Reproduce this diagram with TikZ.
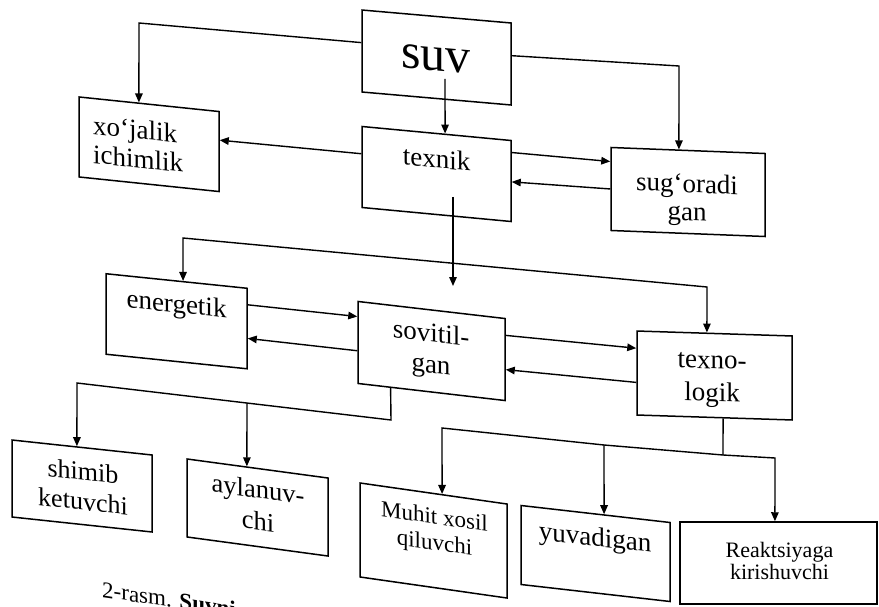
\documentclass[tikz,border=0pt]{standalone}
\usepackage{fontspec}
\setmainfont{Liberation Serif}
\usetikzlibrary{arrows.meta,calc}
\tikzset{
  box/.style={draw, line width=1.5pt, inner sep=0pt},
  lbl/.style={inner sep=0pt, font=\fontsize{27}{29}\selectfont, align=center, anchor=base},
  con/.style={line width=1.4pt},
  arr/.style={con, -{Triangle[length=9pt,width=7.5pt]}},
  darr/.style={con, {Triangle[length=9pt,width=7.5pt]}-{Triangle[length=9pt,width=7.5pt]}},
}
\begin{document}
\begin{tikzpicture}[x=1pt,y=-1pt]
\useasboundingbox[fill=white] (0,0) rectangle (879,607);

% boxes
\node[box, minimum width=149pt, minimum height=82pt, yslant=-0.087] (suv) at (436.5,57.5) {};
\node[box, minimum width=149pt, minimum height=81pt, yslant=-0.094] (tex) at (436.5,174) {};
\node[box, minimum width=140pt, minimum height=80pt, yslant=-0.104] (xoj) at (149,144.25) {};
\node[box, minimum width=154pt, minimum height=83pt, yslant=-0.039] (sug) at (688,192) {};
\node[box, minimum width=141pt, minimum height=80.5pt, yslant=-0.103] (ene) at (176.5,321.25) {};
\node[box, minimum width=147pt, minimum height=82pt, yslant=-0.116] (sov) at (431.5,351) {};
\node[box, minimum width=155pt, minimum height=84pt, yslant=-0.032] (tnl) at (714.5,375.5) {};
\node[box, minimum width=140pt, minimum height=77pt, yslant=-0.107] (shi) at (82,486) {};
\node[box, minimum width=141pt, minimum height=78pt, yslant=-0.135] (ayl) at (257.5,507.5) {};
\node[box, minimum width=147pt, minimum height=94pt, yslant=-0.143] (muh) at (433.5,540.5) {};
\node[box, minimum width=149pt, minimum height=79pt, yslant=-0.114] (yuv) at (595.5,553.5) {};
\node[box, minimum width=197pt, minimum height=82pt] (rea) at (778.5,563) {};

% texts (for two-line texts the base anchor is the last line)
\node[lbl, font=\fontsize{50}{52}\selectfont, yslant=-0.087] (suvt) at (436,71) {suv};
\node[lbl, yslant=-0.094] (text) at (436.5,168) {texnik};
\node[lbl, align=left, anchor=base west, yslant=-0.104] (xojt) at (93,163) {xo‘jalik\\ichimlik};
\node[lbl, font=\fontsize{27}{28}\selectfont, yslant=-0.039] (sugt) at (687,220.5) {sug‘oradi\\gan};
\node[lbl, yslant=-0.103] (enet) at (176.5,312.7) {energetik};
\node[lbl, font=\fontsize{27}{31}\selectfont, yslant=-0.116] (sovt) at (431,373) {sovitil-\\gan};
\node[lbl, font=\fontsize{27}{33}\selectfont, yslant=-0.032] (tnlt) at (712,401.5) {texno-\\logik};
\node[lbl, font=\fontsize{26}{30}\selectfont, yslant=-0.107] (shit) at (83,510) {shimib\\ketuvchi};
\node[lbl, font=\fontsize{26.5}{32}\selectfont, yslant=-0.135] (aylt) at (258,530) {aylanuv-\\chi};
\node[lbl, font=\fontsize{23}{26}\selectfont, yslant=-0.143] (muht) at (434.5,550) {Muhit xosil\\qiluvchi};
\node[lbl, yslant=-0.114] (yuvt) at (595,546) {yuvadigan};
\node[lbl, font=\fontsize{22}{22}\selectfont] (reat) at (779.5,579) {Reaktsiyaga\\kirishuvchi};
\node[lbl, font=\fontsize{23}{26}\selectfont, anchor=base west, yslant=-0.15] (cap) at (102,597) {2-rasm. \textbf{Suvni}};

% coordinates
\coordinate (c1) at (139,23);
\coordinate (c2) at (679,66);
\coordinate (s1) at (445,79);
\coordinate (t1) at (453,197);
\coordinate (t2) at (453,286);
\coordinate (c3) at (183,238);
\coordinate (c4) at (707,287);
\coordinate (c5) at (391,420);
\coordinate (c6) at (77,383);
\coordinate (j1) at (247,403);
\coordinate (c7) at (723,455);
\coordinate (c8) at (442,428);
\coordinate (c9) at (775,458);
\coordinate (j2) at (604,445);

% connectors from suv
\draw[arr] ($(suv.north west)!0.40!(suv.south west)$) -- (c1) -- ($(xoj.north west)!0.4286!(xoj.north east)$);
\draw[arr] (s1) -- ($(tex.north west)!0.557!(tex.north east)$);
\draw[arr] ($(suv.north east)!0.40!(suv.south east)$) -- (c2) -- ($(sug.north west)!0.4416!(sug.north east)$);

% texnik connections
\draw[arr] ($(tex.north west)!0.34!(tex.south west)$) -- ($(xoj.north east)!0.36!(xoj.south east)$);
\draw[arr] ($(tex.north east)!0.154!(tex.south east)$) -- ($(sug.north west)!0.175!(sug.south west)$);
\draw[arr] ($(sug.north west)!0.50!(sug.south west)$) -- ($(tex.north east)!0.51!(tex.south east)$);
\draw[arr] (t1) -- (t2);

% energetik - texnologik
\draw[darr] ($(ene.north west)!0.546!(ene.north east)$) -- (c3) -- (c4) -- ($(tnl.north west)!0.4516!(tnl.north east)$);
\draw[arr] ($(ene.north east)!0.21!(ene.south east)$) -- ($(sov.north west)!0.19!(sov.south west)$);
\draw[arr] ($(sov.north west)!0.60!(sov.south west)$) -- ($(ene.north east)!0.62!(ene.south east)$);
\draw[arr] ($(sov.north east)!0.21!(sov.south east)$) -- ($(tnl.north west)!0.21!(tnl.south west)$);
\draw[arr] ($(tnl.north west)!0.61!(tnl.south west)$) -- ($(sov.north east)!0.62!(sov.south east)$);

% sovitilgan bottom
\draw[arr] ($(sov.south west)!0.2245!(sov.south east)$) -- (c5) -- (c6) -- ($(shi.north west)!0.464!(shi.north east)$);
\draw[arr] (j1) -- ($(ayl.north west)!0.4255!(ayl.north east)$);

% texnologik bottom
\draw[con] ($(tnl.south west)!0.5548!(tnl.south east)$) -- (c7);
\draw[darr] ($(muh.north west)!0.5578!(muh.north east)$) -- (c8) -- (j2) -- (c7) -- (c9) -- ($(rea.north west)!0.482!(rea.north east)$);
\draw[arr] (j2) -- ($(yuv.north west)!0.557!(yuv.north east)$);
\end{tikzpicture}
\end{document}
